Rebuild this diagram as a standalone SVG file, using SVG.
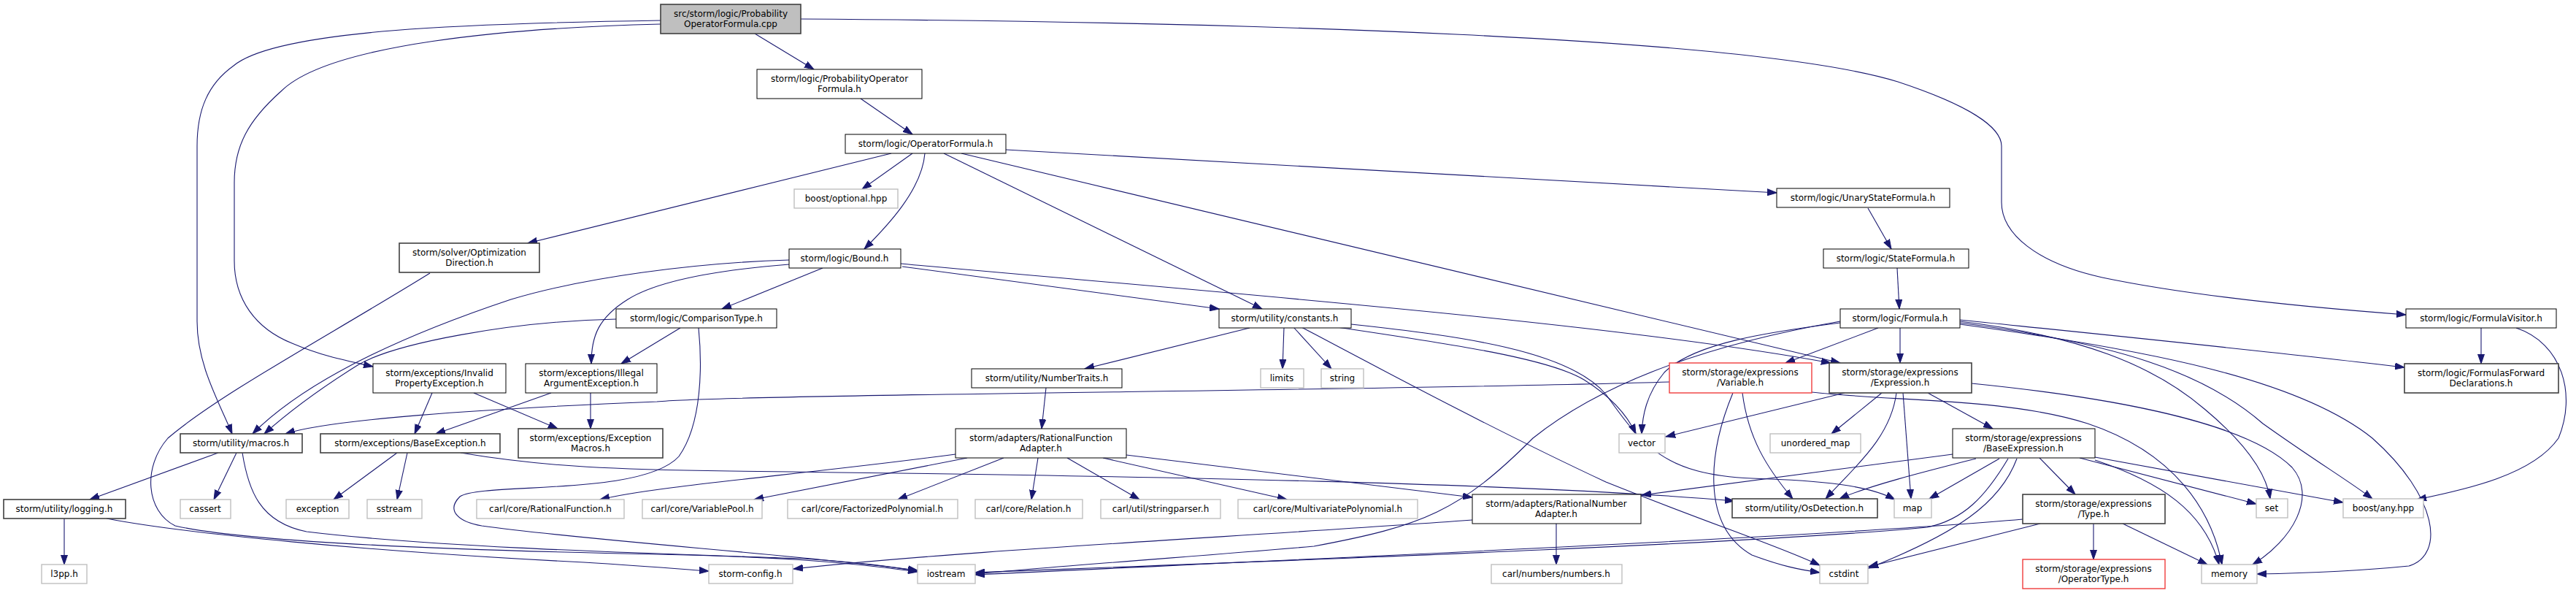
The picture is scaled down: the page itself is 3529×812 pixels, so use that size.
<svg xmlns="http://www.w3.org/2000/svg" width="3529" height="812" viewBox="0 0 3529 812">
<style>
rect{fill:#fff;stroke:#000;stroke-width:1}
rect.d{stroke:#404040;stroke-width:1.6}
rect.g{stroke:#bfbfbf;stroke-width:1.4}
rect.r{stroke:#f03c3c;stroke-width:1.4}
rect.root{fill:#bfbfbf;stroke:#404040;stroke-width:1.6}
text{font-family:"DejaVu Sans","Liberation Sans",sans-serif;font-size:12px;text-anchor:middle;fill:#000}
#edges path{fill:none;stroke:#191970;stroke-width:1.1;marker-end:url(#ah)}
</style>
<defs>
<marker id="ah" markerUnits="userSpaceOnUse" markerWidth="14" markerHeight="10" refX="13" refY="5" orient="auto">
<path d="M0,0.5 L13,5 L0,9.5 z" fill="#191970" stroke="#191970" stroke-width="1"/>
</marker>
</defs>
<rect x="0" y="0" width="3529" height="812" style="fill:#fff;stroke:none"/>
<g id="edges">
<path d="M1034,46 L1115,95"/>
<path d="M1179,135 L1250,184"/>
<path d="M1250,210 L1181,259"/>
<path d="M1221,210 L723,333"/>
<path d="M1267,210 C1263,260 1215,310 1184,341"/>
<path d="M1293,210 L1729,423"/>
<path d="M1317,210 L2521,497"/>
<path d="M1378,205 L2434,264"/>
<path d="M1097,26 C1700,30 2400,50 2600,112 C2700,145 2742,175 2742,200 L2742,277 C2742,320 2790,360 2880,380 C3000,405 3150,420 3296,431"/>
<path d="M905,28 C650,32 380,40 320,90 C285,115 270,150 270,200 L270,440 C270,500 300,550 318,594"/>
<path d="M905,33 C700,38 450,60 385,125 C340,165 321,200 321,250 L321,357 C321,410 350,450 400,470 C440,487 470,493 511,502"/>
<path d="M589,374 C450,460 300,540 230,600 C195,640 200,700 240,720 C350,745 700,755 900,759 C1050,762 1150,768 1257,783"/>
<path d="M1127,367 L989,423"/>
<path d="M1236,365 L1670,423"/>
<path d="M1234,361 C1600,395 2200,440 2508,497"/>
<path d="M1081,356 C950,360 800,380 700,410 C550,460 420,520 346,594"/>
<path d="M1081,362 C980,370 900,385 860,410 C820,435 810,460 810,498"/>
<path d="M844,437 C700,440 540,470 490,500 C450,525 400,560 362,594"/>
<path d="M932,449 L851,498"/>
<path d="M957,449 C962,500 962,580 930,625 C880,680 660,660 630,680 C610,700 630,715 660,720 C800,740 1100,760 1257,781"/>
<path d="M1712,449 L1486,505"/>
<path d="M1759,448 L1757,505"/>
<path d="M1772,448 L1824,505"/>
<path d="M1832,448 C1980,470 2120,490 2170,520 C2210,545 2230,570 2241,594"/>
<path d="M1783,448 C1900,510 2050,590 2200,660 C2350,720 2430,745 2493,774"/>
<path d="M1851,444 C2000,460 2150,480 2200,540 C2250,610 2280,650 2400,655 C2500,658 2560,665 2596,684"/>
<path d="M1433,531 L1427,587"/>
<path d="M1309,622 C1100,650 900,665 822,684"/>
<path d="M1325,627 L1033,684"/>
<path d="M1375,627 L1230,684"/>
<path d="M1422,627 L1413,684"/>
<path d="M1462,627 L1561,684"/>
<path d="M1511,627 L1763,684"/>
<path d="M1543,623 L2017,681"/>
<path d="M2132,717 L2132,773"/>
<path d="M2017,712 C1700,735 1300,755 1087,779"/>
<path d="M2287,523 C1900,535 1000,540 900,550 C650,560 450,575 391,594"/>
<path d="M2387,538 C2395,600 2420,640 2456,683"/>
<path d="M2374,538 C2340,620 2330,720 2400,760 C2440,775 2465,780 2493,784"/>
<path d="M2482,537 C2600,550 2750,545 2860,580 C2980,620 3030,700 3044,773"/>
<path d="M2573,449 L2446,497"/>
<path d="M2603,449 L2603,497"/>
<path d="M2521,442 C2420,455 2320,470 2280,510 C2255,540 2250,570 2249,594"/>
<path d="M2521,440 C2350,470 2200,520 2100,600 C2000,700 1950,720 1800,748 C1600,765 1450,775 1336,786"/>
<path d="M2685,438 C2850,455 3100,480 3294,503"/>
<path d="M2685,440 C2850,460 2950,500 3020,560 C3080,610 3105,650 3110,683"/>
<path d="M2685,442 C2900,470 3020,510 3100,580 C3170,630 3220,660 3250,683"/>
<path d="M2685,444 C2950,480 3150,520 3250,600 C3340,680 3350,760 3300,775 C3230,782 3150,785 3092,786"/>
<path d="M3399,449 L3399,498"/>
<path d="M3447,449 C3510,470 3530,540 3505,600 C3470,650 3380,670 3311,684"/>
<path d="M2527,538 L2282,598"/>
<path d="M2578,538 L2509,594"/>
<path d="M2598,538 C2590,600 2540,640 2501,683"/>
<path d="M2607,538 L2618,683"/>
<path d="M2641,538 L2730,587"/>
<path d="M2701,525 C2900,545 3080,580 3140,640 C3175,680 3140,740 3086,773"/>
<path d="M2675,622 L2249,678"/>
<path d="M2707,628 C2640,645 2560,665 2520,683"/>
<path d="M2739,628 L2643,683"/>
<path d="M2794,627 L2843,677"/>
<path d="M2849,627 L3091,690"/>
<path d="M2870,626 L3210,688"/>
<path d="M2870,630 C2960,660 3020,700 3040,773"/>
<path d="M2763,628 C2740,690 2680,730 2560,778"/>
<path d="M2751,628 C2720,680 2690,712 2640,722 C2400,745 1700,770 1336,784"/>
<path d="M2868,717 L2868,766"/>
<path d="M2908,717 L3024,773"/>
<path d="M2795,717 L2560,776"/>
<path d="M2771,711 C2500,735 1800,765 1336,787"/>
<path d="M544,620 L457,684"/>
<path d="M558,620 L544,684"/>
<path d="M631,620 C750,640 850,643 1000,645 C1600,652 2100,662 2376,686"/>
<path d="M592,538 L568,594"/>
<path d="M649,538 L764,587"/>
<path d="M755,538 L597,594"/>
<path d="M809,538 L809,587"/>
<path d="M299,620 L123,684"/>
<path d="M324,620 L293,684"/>
<path d="M332,620 C340,670 355,715 420,728 C600,750 900,758 1100,765 C1180,770 1220,776 1257,782"/>
<path d="M88,710 L88,773"/>
<path d="M146,710 C250,730 500,755 800,770 C880,775 930,779 971,782"/>
<path d="M2559,285 L2591,341"/>
<path d="M2599,367 L2602,423"/>
</g>
<g id="n1"><rect class="root" x="905" y="6" width="192" height="40"/><text x="1001" y="22.5">src/storm/logic/Probability</text><text x="1001" y="37">OperatorFormula.cpp</text></g>
<g id="n2"><rect x="1037" y="95" width="226" height="40"/><text x="1150" y="111.5">storm/logic/ProbabilityOperator</text><text x="1150" y="126">Formula.h</text></g>
<g id="n3"><rect x="1158" y="184" width="220" height="26"/><text x="1268" y="201">storm/logic/OperatorFormula.h</text></g>
<g id="n4"><rect class="g" x="1088" y="259" width="142" height="26"/><text x="1159" y="276">boost/optional.hpp</text></g>
<g id="n5"><rect x="2434" y="258" width="237" height="26"/><text x="2552" y="275">storm/logic/UnaryStateFormula.h</text></g>
<g id="n6"><rect x="2498" y="341" width="199" height="26"/><text x="2597" y="358">storm/logic/StateFormula.h</text></g>
<g id="n7"><rect class="d" x="547" y="333" width="192" height="40"/><text x="643" y="349.5">storm/solver/Optimization</text><text x="643" y="364">Direction.h</text></g>
<g id="n8"><rect x="1081" y="341" width="153" height="26"/><text x="1157" y="358">storm/logic/Bound.h</text></g>
<g id="n9"><rect x="2521" y="423" width="164" height="26"/><text x="2603" y="440">storm/logic/Formula.h</text></g>
<g id="n10"><rect x="3296" y="423" width="206" height="26"/><text x="3399" y="440">storm/logic/FormulaVisitor.h</text></g>
<g id="n11"><rect x="844" y="423" width="220" height="26"/><text x="954" y="440">storm/logic/ComparisonType.h</text></g>
<g id="n12"><rect x="1670" y="423" width="181" height="26"/><text x="1760" y="440">storm/utility/constants.h</text></g>
<g id="n13"><rect class="d" x="3294" y="498" width="211" height="40"/><text x="3399" y="514.5">storm/logic/FormulasForward</text><text x="3399" y="529">Declarations.h</text></g>
<g id="n14"><rect class="r" x="2287" y="497" width="195" height="41"/><text x="2384" y="513.5">storm/storage/expressions</text><text x="2384" y="528">/Variable.h</text></g>
<g id="n15"><rect class="d" x="2506" y="497" width="195" height="41"/><text x="2603" y="513.5">storm/storage/expressions</text><text x="2603" y="528">/Expression.h</text></g>
<g id="n16"><rect x="511" y="498" width="182" height="40"/><text x="602" y="514.5">storm/exceptions/Invalid</text><text x="602" y="529">PropertyException.h</text></g>
<g id="n17"><rect x="720" y="498" width="180" height="40"/><text x="810" y="514.5">storm/exceptions/Illegal</text><text x="810" y="529">ArgumentException.h</text></g>
<g id="n18"><rect x="1331" y="505" width="206" height="26"/><text x="1434" y="522">storm/utility/NumberTraits.h</text></g>
<g id="n19"><rect class="g" x="1727" y="505" width="59" height="26"/><text x="1756" y="522">limits</text></g>
<g id="n20"><rect class="g" x="1810" y="505" width="58" height="26"/><text x="1839" y="522">string</text></g>
<g id="n21"><rect class="d" x="247" y="594" width="167" height="26"/><text x="330" y="611">storm/utility/macros.h</text></g>
<g id="n22"><rect class="d" x="439" y="594" width="246" height="26"/><text x="562" y="611">storm/exceptions/BaseException.h</text></g>
<g id="n23"><rect class="d" x="710" y="587" width="198" height="40"/><text x="809" y="603.5">storm/exceptions/Exception</text><text x="809" y="618">Macros.h</text></g>
<g id="n24"><rect class="g" x="2218" y="594" width="63" height="26"/><text x="2249" y="611">vector</text></g>
<g id="n25"><rect class="g" x="2425" y="594" width="124" height="26"/><text x="2487" y="611">unordered_map</text></g>
<g id="n26"><rect x="2675" y="587" width="195" height="40"/><text x="2772" y="603.5">storm/storage/expressions</text><text x="2772" y="618">/BaseExpression.h</text></g>
<g id="n27"><rect x="1309" y="587" width="234" height="40"/><text x="1426" y="603.5">storm/adapters/RationalFunction</text><text x="1426" y="618">Adapter.h</text></g>
<g id="n28"><rect class="d" x="5" y="684" width="167" height="26"/><text x="88" y="701">storm/utility/logging.h</text></g>
<g id="n29"><rect class="g" x="247" y="684" width="69" height="26"/><text x="281" y="701">cassert</text></g>
<g id="n30"><rect class="g" x="392" y="684" width="86" height="26"/><text x="435" y="701">exception</text></g>
<g id="n31"><rect class="g" x="503" y="684" width="75" height="26"/><text x="540" y="701">sstream</text></g>
<g id="n32"><rect class="g" x="653" y="684" width="202" height="26"/><text x="754" y="701">carl/core/RationalFunction.h</text></g>
<g id="n33"><rect class="g" x="880" y="684" width="164" height="26"/><text x="962" y="701">carl/core/VariablePool.h</text></g>
<g id="n34"><rect class="g" x="1079" y="684" width="233" height="26"/><text x="1195" y="701">carl/core/FactorizedPolynomial.h</text></g>
<g id="n35"><rect class="g" x="1336" y="684" width="147" height="26"/><text x="1409" y="701">carl/core/Relation.h</text></g>
<g id="n36"><rect class="g" x="1508" y="684" width="164" height="26"/><text x="1590" y="701">carl/util/stringparser.h</text></g>
<g id="n37"><rect class="g" x="1696" y="684" width="246" height="26"/><text x="1819" y="701">carl/core/MultivariatePolynomial.h</text></g>
<g id="n38"><rect x="2017" y="677" width="231" height="40"/><text x="2132" y="693.5">storm/adapters/RationalNumber</text><text x="2132" y="708">Adapter.h</text></g>
<g id="n39"><rect class="d" x="2373" y="683" width="199" height="26"/><text x="2472" y="700">storm/utility/OsDetection.h</text></g>
<g id="n40"><rect class="g" x="2595" y="683" width="51" height="26"/><text x="2620" y="700">map</text></g>
<g id="n41"><rect class="d" x="2771" y="677" width="195" height="40"/><text x="2868" y="693.5">storm/storage/expressions</text><text x="2868" y="708">/Type.h</text></g>
<g id="n42"><rect class="g" x="3091" y="683" width="43" height="26"/><text x="3112" y="700">set</text></g>
<g id="n43"><rect class="g" x="3210" y="683" width="110" height="26"/><text x="3265" y="700">boost/any.hpp</text></g>
<g id="n44"><rect class="g" x="57" y="773" width="62" height="26"/><text x="88" y="790">l3pp.h</text></g>
<g id="n45"><rect class="g" x="971" y="773" width="115" height="26"/><text x="1028" y="790">storm-config.h</text></g>
<g id="n46"><rect class="g" x="1257" y="773" width="79" height="26"/><text x="1296" y="790">iostream</text></g>
<g id="n47"><rect class="g" x="2043" y="773" width="179" height="26"/><text x="2132" y="790">carl/numbers/numbers.h</text></g>
<g id="n48"><rect class="g" x="2493" y="773" width="66" height="26"/><text x="2526" y="790">cstdint</text></g>
<g id="n49"><rect class="r" x="2771" y="766" width="195" height="40"/><text x="2868" y="782.5">storm/storage/expressions</text><text x="2868" y="797">/OperatorType.h</text></g>
<g id="n50"><rect class="g" x="3016" y="773" width="76" height="26"/><text x="3054" y="790">memory</text></g>
</svg>
